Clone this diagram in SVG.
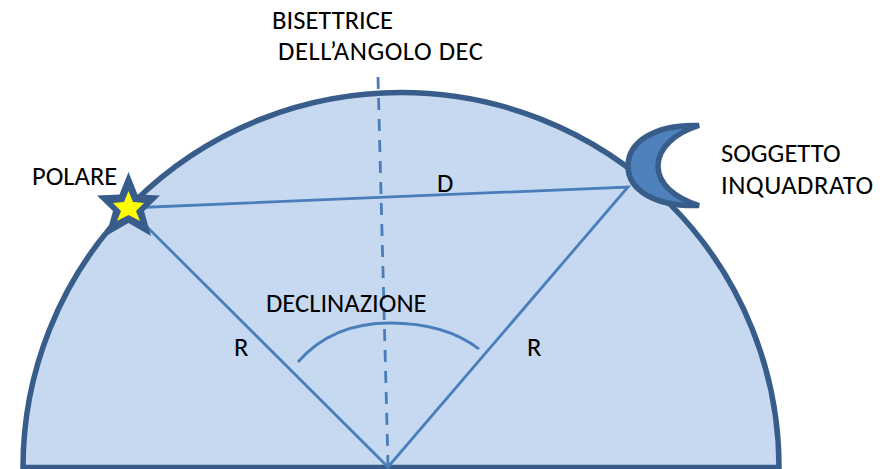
<svg xmlns="http://www.w3.org/2000/svg" width="882" height="469" viewBox="0 0 882 469">
<style>
.l{fill:none;stroke:#4a7ebb;stroke-width:2.800}
.t{font-family:"Carlito","Lato","Liberation Sans",sans-serif;font-size:26.600px;fill:#000}
</style>
<rect width="882" height="469" fill="#fff"/>
<g id="dome"><path d="M23 467.500A378 375 0 0 1 779 467.500Z" fill="#c6d9f1" stroke="#385d8a" stroke-width="5.500"/></g>
<g id="connectors">
<path class="l" d="M128 208L628 187L388 467L128 208"/>
<path class="l" d="M378 77L388 465" stroke-dasharray="12 9"/>
<path class="l" d="M298 362Q332 323 390 323Q445 323 479 349"/>
</g>
<g id="star"><path d="M128.500 172L137.500 194.500L160 195.500L144 211L151 236L128.500 223L106 236L113 211L97 195.500L119.500 194.500Z" fill="#385d8a"/><path d="M128.500 191L133 202L144 203L136 211L140 221L128.500 215L117 221L121 211L113 203L124 202Z" fill="#ffff00"/></g>
<g id="moon"><path d="M699 125.500C655 124 628 142 628 166C628 190 655 207 699 205.500C675 198 658 184 658 166C658 148 675 133 699 125.500Z" fill="#4f81bd" stroke="#385d8a" stroke-width="5.500"/></g>
<g id="labels">
<text class="t" x="272" y="29">BISETTRICE</text>
<text class="t" x="278" y="60" textLength="205" lengthAdjust="spacing">DELL’ANGOLO DEC</text>
<text class="t" x="32" y="185">POLARE</text>
<text class="t" x="437" y="192">D</text>
<text class="t" x="721" y="162">SOGGETTO</text>
<text class="t" x="721" y="194" textLength="152" lengthAdjust="spacing">INQUADRATO</text>
<text class="t" x="266" y="312">DECLINAZIONE</text>
<text class="t" x="234" y="356">R</text>
<text class="t" x="527" y="356">R</text>
</g>
</svg>
